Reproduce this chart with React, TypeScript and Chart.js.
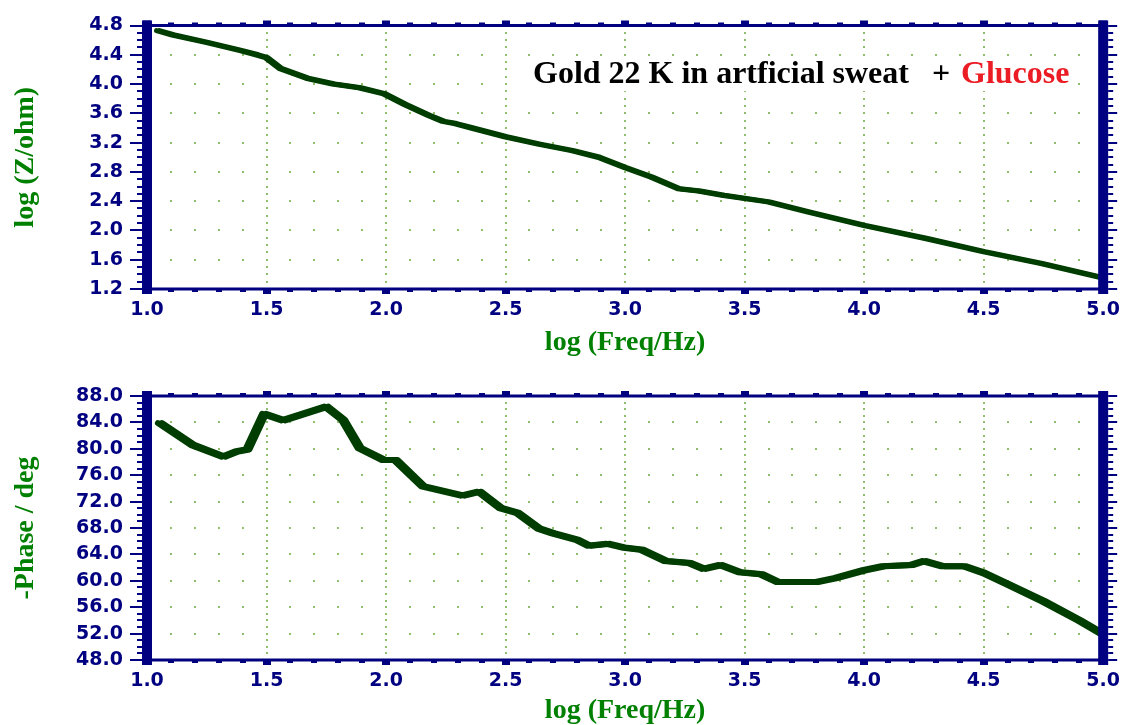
import React, { useEffect, useRef } from 'react';
import { Chart, registerables } from 'chart.js';

Chart.register(...registerables);

// ---------- data ----------
const logFreqZ = [1.046, 1.11, 1.25, 1.39, 1.46, 1.50, 1.56, 1.67, 1.78, 1.89, 1.99, 2.08, 2.18, 2.24, 2.29, 2.36, 2.50, 2.64, 2.78, 2.89, 3.00, 3.11, 3.225, 3.31, 3.41, 3.60, 3.77, 4.00, 4.26, 4.50, 4.74, 4.99];
const logZ = [4.73, 4.67, 4.57, 4.46, 4.40, 4.36, 4.21, 4.08, 4.00, 3.95, 3.87, 3.72, 3.57, 3.49, 3.46, 3.40, 3.28, 3.18, 3.09, 3.00, 2.86, 2.73, 2.57, 2.54, 2.48, 2.39, 2.25, 2.07, 1.89, 1.71, 1.55, 1.36];

const logFreqPhase = [1.054, 1.19, 1.32, 1.375, 1.42, 1.49, 1.57, 1.75, 1.82, 1.89, 1.99, 2.04, 2.155, 2.32, 2.39, 2.48, 2.55, 2.64, 2.70, 2.80, 2.85, 2.93, 3.00, 3.07, 3.17, 3.27, 3.33, 3.40, 3.48, 3.57, 3.64, 3.80, 3.88, 4.00, 4.08, 4.20, 4.25, 4.33, 4.42, 4.50, 4.60, 4.75, 4.90, 4.995];
const phase = [83.9, 80.6, 78.8, 79.6, 79.9, 85.3, 84.3, 86.4, 84.4, 80.1, 78.3, 78.3, 74.3, 72.9, 73.5, 71.0, 70.3, 67.9, 67.2, 66.2, 65.3, 65.6, 65.0, 64.7, 63.0, 62.7, 61.8, 62.4, 61.3, 61.0, 59.8, 59.8, 60.4, 61.6, 62.2, 62.4, 63.0, 62.2, 62.2, 61.2, 59.5, 56.9, 54.0, 52.0];

const freqTicks = [1.0, 1.5, 2.0, 2.5, 3.0, 3.5, 4.0, 4.5, 5.0];
const zTicks = [1.2, 1.6, 2.0, 2.4, 2.8, 3.2, 3.6, 4.0, 4.4, 4.8];
const phaseTicks = [48, 52, 56, 60, 64, 68, 72, 76, 80, 84, 88];

const freqTitle = 'log (Freq/Hz)';
const zTitle = 'log (Z/ohm)';
const phaseTitle = '-Phase / deg';
const headerMain = 'Gold 22 K in artficial sweat';
const headerPlus = '+';
const headerGlucose = 'Glucose';

// ---------- styles ----------
const NAVY = '#000080';
const LINE = '#003d00';
const TITLE_GREEN = '#008000';
const DOT = '#8fbf6c';
const W = 1124;

function framePlugin(yStep: number, yMajorEvery: number, header: boolean, penX: number) {
  return {
    id: 'frame' + (header ? 'A' : 'B'),
    beforeDatasetsDraw(chart: any) {
      const { ctx, scales } = chart;
      const x = scales.x, y = scales.y;
      const xN = Math.round((x.max - x.min) / 0.1);
      const yN = Math.round((y.max - y.min) / yStep);
      ctx.save();
      ctx.fillStyle = DOT;
      for (let i = 5; i < xN; i += 5) {
        const px = Math.round(x.getPixelForValue(x.min + i * 0.1));
        for (let j = 1; j < yN; j++) {
          const py = Math.round(y.getPixelForValue(y.min + j * yStep));
          ctx.fillRect(px - 1, py - 1, 2, 2);
        }
      }
      for (let j = yMajorEvery; j < yN; j += yMajorEvery) {
        const py = Math.round(y.getPixelForValue(y.min + j * yStep));
        for (let i = 1; i < xN; i++) {
          if (i % 5 === 0) continue;
          const px = Math.round(x.getPixelForValue(x.min + i * 0.1));
          ctx.fillRect(px - 1, py - 1, 2, 2);
        }
      }
      if (header) {
        ctx.fillStyle = '#ffffff';
        ctx.fillRect(525, 57, 553, 34);
        ctx.font = 'bold 32px "Liberation Serif"';
        ctx.textBaseline = 'alphabetic';
        ctx.textAlign = 'left';
        ctx.fillStyle = '#000000';
        ctx.fillText(headerMain, 533, 83);
        ctx.fillText(headerPlus, 932, 83);
        ctx.fillStyle = '#ec1c24';
        ctx.fillText(headerGlucose, 961, 83);
      }
      ctx.restore();
    },
    beforeDatasetDraw(chart: any) {
      const ctx = chart.ctx;
      ctx.save();
      ctx.shadowColor = LINE;
      ctx.shadowBlur = 0;
      ctx.shadowOffsetX = penX;
      ctx.shadowOffsetY = 0;
      ctx.translate(-penX / 2, 0);
    },
    afterDatasetDraw(chart: any) {
      chart.ctx.restore();
    },
    afterDatasetsDraw(chart: any) {
      const { ctx, chartArea: a, scales } = chart;
      const x = scales.x, y = scales.y;
      const L = a.left, R = a.right, T = a.top, B = a.bottom;
      const xN = Math.round((x.max - x.min) / 0.1);
      const yN = Math.round((y.max - y.min) / yStep);
      ctx.save();
      ctx.fillStyle = NAVY;
      ctx.fillRect(L, T - 1.5, R - L, 3);
      ctx.fillRect(L, B - 1.5, R - L, 3);
      for (let i = 0; i <= xN; i++) {
        const px = Math.round(x.getPixelForValue(x.min + i * 0.1));
        if (i % 5 === 0) {
          ctx.fillRect(px - 4, T - 5, 8, 4);
          ctx.fillRect(px - 4, B + 1, 8, 4);
        } else {
          ctx.fillRect(px - 3, T - 3, 6, 2);
          ctx.fillRect(px - 3, B + 1, 6, 2);
        }
      }
      for (let j = 0; j <= yN; j++) {
        const py = Math.round(y.getPixelForValue(y.min + j * yStep));
        if (j % yMajorEvery === 0) {
          ctx.fillRect(L - 17, py - 1, 12, 2);
          ctx.fillRect(R + 5, py - 1, 9, 2);
        } else {
          ctx.fillRect(L - 10, py - 1, 5, 2);
          ctx.fillRect(R + 5, py - 1, 5, 2);
        }
      }
      ctx.fillRect(L - 5, T - 5, 10, B - T + 10);
      ctx.fillRect(R - 5, T - 5, 10, B - T + 10);
      ctx.restore();
    },
  };
}

const tickFont = { family: '"DejaVu Sans", sans-serif', size: 19, weight: 'bold' as const, lineHeight: 1 };
const titleFont = { family: '"Liberation Serif", "Times New Roman", serif', size: 28, weight: 'bold' as const, lineHeight: 1 };

function makeConfig(opts: {
  xs: number[]; ys: number[]; yTicks: number[]; yTitle: string;
  height: number; top: number; bottom: number; lineWidth: number; penX: number;
  yStep: number; header: boolean; xTitlePad: number;
}) {
  const { xs, ys, yTicks, yTitle, height, top, bottom, lineWidth, penX, yStep, header, xTitlePad } = opts;
  return {
    type: 'line' as const,
    data: {
      datasets: [
        {
          data: xs.map((v, i) => ({ x: v, y: ys[i] })),
          borderColor: LINE,
          borderWidth: lineWidth,
          pointRadius: 0,
          tension: 0,
          fill: false,
          borderJoinStyle: 'round' as const,
          borderCapStyle: 'round' as const,
        },
      ],
    },
    options: {
      animation: false as const,
      responsive: false,
      maintainAspectRatio: false,
      layout: { padding: { top, right: W - 1105, left: 0, bottom: 0 }, autoPadding: false },
      plugins: { legend: { display: false }, tooltip: { enabled: false }, title: { display: false } },
      scales: {
        x: {
          type: 'linear' as const,
          min: 1,
          max: 5,
          afterBuildTicks: (s: any) => { s.ticks = freqTicks.map((v) => ({ value: v })); },
          afterFit: (s: any) => { s.height = height - bottom; },
          ticks: {
            callback: (v: any) => Number(v).toFixed(1),
            font: tickFont,
            color: NAVY,
            padding: 4,
            maxRotation: 0,
            autoSkip: false,
          },
          grid: { display: false },
          border: { display: false },
          title: { display: true, text: freqTitle, color: TITLE_GREEN, font: titleFont, padding: { top: 0, bottom: xTitlePad } },
        },
        y: {
          type: 'linear' as const,
          min: yTicks[0],
          max: yTicks[yTicks.length - 1],
          afterBuildTicks: (s: any) => { s.ticks = yTicks.map((v) => ({ value: v })); },
          afterFit: (s: any) => { s.width = 147; },
          ticks: {
            callback: (v: any) => Number(v).toFixed(1),
            font: tickFont,
            color: NAVY,
            padding: 16,
            autoSkip: false,
          },
          grid: { display: false },
          border: { display: false },
          title: { display: true, text: yTitle, color: TITLE_GREEN, font: titleFont, padding: { top: 12, bottom: 0 } },
        },
      },
    },
    plugins: [framePlugin(yStep, 4, header, penX)],
  };
}

export default function App() {
  const topRef = useRef<HTMLCanvasElement>(null);
  const botRef = useRef<HTMLCanvasElement>(null);

  useEffect(() => {
    const c1 = new Chart(topRef.current as HTMLCanvasElement, makeConfig({
      xs: logFreqZ, ys: logZ, yTicks: zTicks, yTitle: zTitle,
      height: 362, top: 24, bottom: 289, lineWidth: 5, penX: 3, yStep: 0.1, header: true, xTitlePad: 5,
    }) as any);
    const c2 = new Chart(botRef.current as HTMLCanvasElement, makeConfig({
      xs: logFreqPhase, ys: phase, yTicks: phaseTicks, yTitle: phaseTitle,
      height: 363, top: 396 - 362, bottom: 660 - 362, lineWidth: 6, penX: 4, yStep: 1, header: false, xTitlePad: 0,
    }) as any);
    return () => { c1.destroy(); c2.destroy(); };
  }, []);

  return (
    <div style={{ position: 'fixed', left: 0, top: 0, width: W, height: 725, background: '#ffffff', overflow: 'hidden' }}>
      <canvas ref={topRef} width={W} height={362} style={{ position: 'absolute', left: 0, top: 0, display: 'block' }} />
      <canvas ref={botRef} width={W} height={363} style={{ position: 'absolute', left: 0, top: 362, display: 'block' }} />
    </div>
  );
}
